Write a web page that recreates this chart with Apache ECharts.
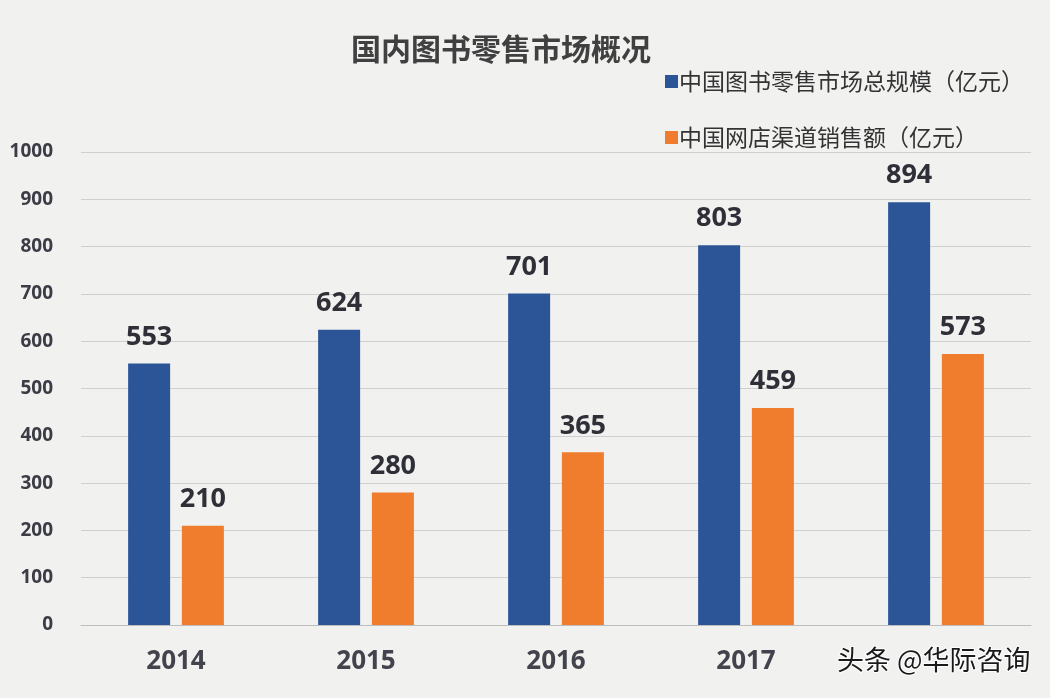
<!DOCTYPE html>
<html>
<head>
<meta charset="utf-8">
<script src="https://cdn.jsdelivr.net/npm/echarts@6/dist/echarts.min.js"></script>
<style>
html,body{margin:0;padding:0;background:#f1f1f0;}
#c{width:1050px;height:698px;}
</style>
</head>
<body>
<div id="c"></div>
<script>
const title = '国内图书零售市场概况';
const categories = ['2014', '2015', '2016', '2017', '2018'];
const seriesNames = ['中国图书零售市场总规模（亿元）', '中国网店渠道销售额（亿元）'];
const totalMarket = [553, 624, 701, 803, 894];
const onlineSales = [210, 280, 365, 459, 573];
const yTicks = [0, 100, 200, 300, 400, 500, 600, 700, 800, 900, 1000];
const watermark = '头条 @华际咨询';

const chart = echarts.init(document.getElementById('c'));
const labelStyle = {
  show: true, position: 'top', distance: 13,
  fontSize: 27, fontWeight: 'bold', color: '#2f2f38',
  fontFamily: 'Open Sans, Noto Sans, sans-serif'
};
chart.setOption({
  backgroundColor: '#f1f1f0',
  animation: false,
  title: {
    text: title, left: 346, top: 29,
    textStyle: {fontSize: 30, fontWeight: 'bold', color: '#404040', fontFamily: 'Noto Sans CJK SC'}
  },
  legend: {
    orient: 'vertical', left: 660, top: 65, itemGap: 33,
    itemWidth: 13, itemHeight: 13, icon: 'rect',
    textStyle: {fontSize: 23, color: '#333', fontFamily: 'Noto Sans CJK SC', padding: [0, 0, 0, -4]},
    data: seriesNames
  },
  grid: {left: 81, right: 19, top: 152, bottom: 73, containLabel: false},
  xAxis: {
    type: 'category', data: categories,
    axisLine: {lineStyle: {color: '#bdbdbd', width: 1}},
    axisTick: {show: false},
    axisLabel: {
      margin: 24, fontSize: 26, fontWeight: 'bold', color: '#43434d',
      fontFamily: 'Open Sans, sans-serif',
      formatter: (v, i) => i === categories.length - 1 ? '' : v
    }
  },
  yAxis: {
    type: 'value', min: yTicks[0], max: yTicks[yTicks.length - 1], interval: 100,
    axisLine: {show: false}, axisTick: {show: false},
    axisLabel: {margin: 28, fontSize: 19, fontWeight: 'bold', color: '#3c3c46', fontFamily: 'Open Sans, sans-serif',
      formatter: v => String(v)},
    splitLine: {lineStyle: {color: '#cfcfcf', width: 1}}
  },
  series: [
    {name: seriesNames[0], type: 'bar', data: totalMarket, barWidth: 42, barGap: '28%',
     itemStyle: {color: '#2c5598'}, label: labelStyle},
    {name: seriesNames[1], type: 'bar', data: onlineSales, barWidth: 42,
     itemStyle: {color: '#ef7d2d'}, label: labelStyle}
  ],
  graphic: [{
    type: 'text', left: 836, top: 645,
    style: {
      text: watermark, fontSize: 27, fill: '#1a1a1a',
      fontFamily: 'Noto Sans CJK SC', stroke: '#ffffff', lineWidth: 2
    }
  }]
});
</script>
</body>
</html>
